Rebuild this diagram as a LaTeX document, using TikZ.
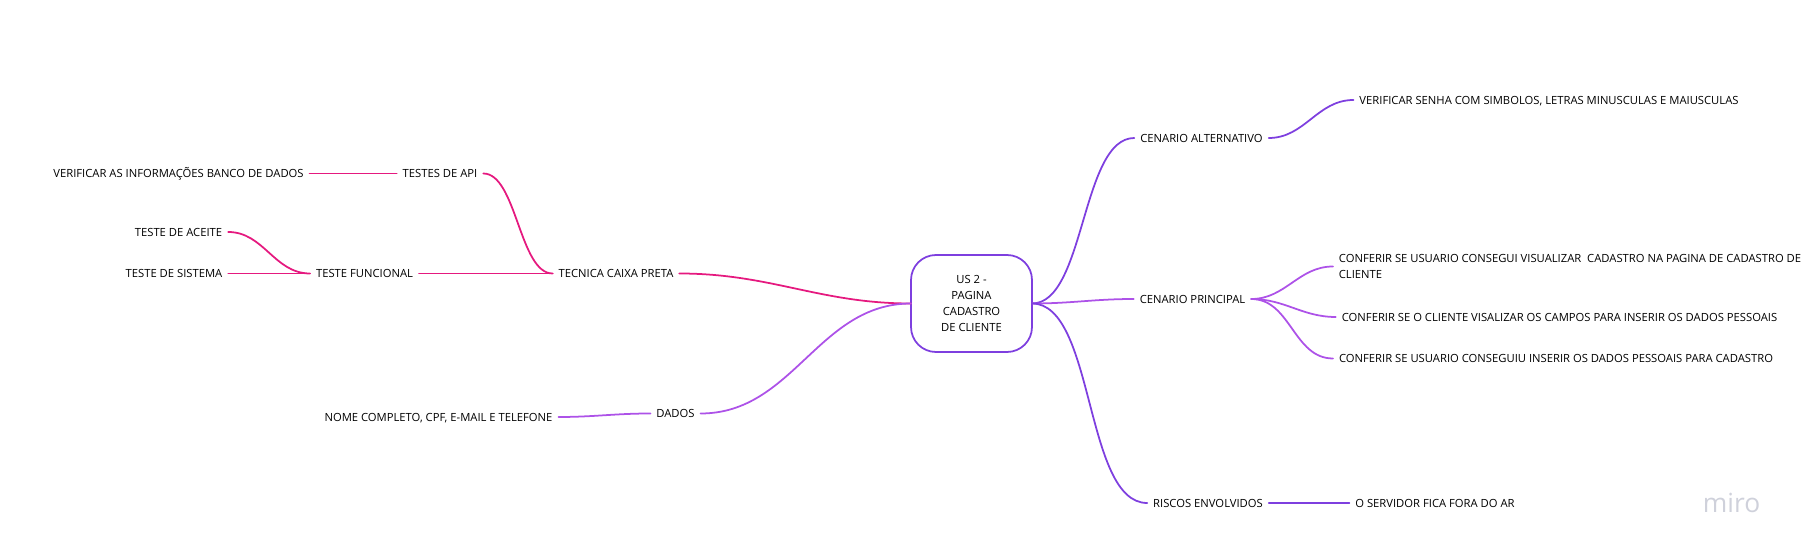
\documentclass[tikz,border=0pt]{standalone}
\usepackage{fontspec}
\setmainfont{Open Sans}
\usepackage{xcolor}
\usepackage{tikz}
\usetikzlibrary{
  positioning
}
\definecolor{rosa}{HTML}{E5197F}
\definecolor{roxo}{HTML}{7E3FDF}
\definecolor{lilas}{HTML}{AD52E8}
\definecolor{marca}{HTML}{CFD1DB}

\begin{document}
\begin{tikzpicture}[
    texto/.style={font=\fontsize{6.4}{9.07}\selectfont,inner sep=0pt,outer xsep=0.12cm,outer ysep=0pt},
    rotulo/.style={texto,text height=4.6pt,text depth=0pt},
    ligacao/.style={line width=1pt,line cap=round,out=0,in=180},
    ligacaoesq/.style={line width=1pt,line cap=round,out=180,in=0}
    ]
    \useasboundingbox (0,0) rectangle (36.04,11.08);

    % Centro
    \node[texto,draw=roxo,line width=1pt,rounded corners=0.5cm,minimum width=2.42cm,minimum height=1.94cm,
    outer xsep=0pt,align=center] (centro) at (19.43,5.01)
    {US 2 -\\PAGINA\\CADASTRO\\DE CLIENTE};

    % Lado direito
    \node[rotulo] (alternativo) at (24.03,8.32) {CENARIO ALTERNATIVO};
    \node[rotulo] (senha) at (30.98,9.08) {VERIFICAR SENHA COM SIMBOLOS, LETRAS MINUSCULAS E MAIUSCULAS};
    \node[rotulo] (principal) at (23.85,5.10) {CENARIO PRINCIPAL};
    \node[texto,align=left] (conferir1) at (31.40,5.75)
    {CONFERIR SE USUARIO CONSEGUI VISUALIZAR\ \ CADASTRO NA PAGINA DE CADASTRO DE\\CLIENTE};
    \node[rotulo] (conferir2) at (31.19,4.74) {CONFERIR SE O CLIENTE VISALIZAR OS CAMPOS PARA INSERIR OS DADOS PESSOAIS};
    \node[rotulo] (conferir3) at (31.12,3.91) {CONFERIR SE USUARIO CONSEGUIU INSERIR OS DADOS PESSOAIS PARA CADASTRO};
    \node[rotulo] (riscos) at (24.16,1.02) {RISCOS ENVOLVIDOS};
    \node[rotulo] (servidor) at (28.70,1.02) {O SERVIDOR FICA FORA DO AR};

    % Lado esquerdo
    \node[rotulo] (tecnica) at (12.32,5.61) {TECNICA CAIXA PRETA};
    \node[rotulo] (funcional) at (7.29,5.61) {TESTE FUNCIONAL};
    \node[rotulo] (api) at (8.80,7.61) {TESTES DE API};
    \node[rotulo] (informacoes) at (3.57,7.61) {VERIFICAR AS INFORMAÇÕES BANCO DE DADOS};
    \node[rotulo] (aceite) at (3.57,6.44) {TESTE DE ACEITE};
    \node[rotulo] (sistema) at (3.48,5.61) {TESTE DE SISTEMA};
    \node[rotulo] (dados) at (13.51,2.81) {DADOS};
    \node[rotulo] (nome) at (8.77,2.74) {NOME COMPLETO, CPF, E-MAIL E TELEFONE};

    % Ligações direita
    \draw[ligacao,roxo,looseness=0.7] (centro.east) to (alternativo.west);
    \draw[ligacao,roxo] (alternativo.east) to (senha.west);
    \draw[ligacao,lilas] (centro.east) to (principal.west);
    \draw[ligacao,lilas] (principal.east) to (conferir1.west);
    \draw[ligacao,lilas] (principal.east) to (conferir2.west);
    \draw[ligacao,lilas] (principal.east) to (conferir3.west);
    \draw[ligacao,roxo,looseness=0.7] (centro.east) to (riscos.west);
    \draw[ligacao,roxo] (riscos.east) to (servidor.west);

    % Ligações esquerda
    \draw[ligacaoesq,rosa] (centro.west) to (tecnica.east);
    \draw[ligacaoesq,rosa] (tecnica.west) to (funcional.east);
    \draw[ligacaoesq,rosa,looseness=0.7] (tecnica.west) to (api.east);
    \draw[ligacaoesq,rosa] (api.west) to (informacoes.east);
    \draw[ligacaoesq,rosa] (funcional.west) to (aceite.east);
    \draw[ligacaoesq,rosa] (funcional.west) to (sistema.east);
    \draw[ligacaoesq,lilas] (centro.west) to (dados.east);
    \draw[ligacaoesq,lilas] (dados.west) to (nome.east);

    % Marca
    \node[inner sep=0pt,font=\fontsize{15}{15}\selectfont,text=marca] (miro) at (34.63,1.02) {miro};

    \end{tikzpicture}
\end{document}
